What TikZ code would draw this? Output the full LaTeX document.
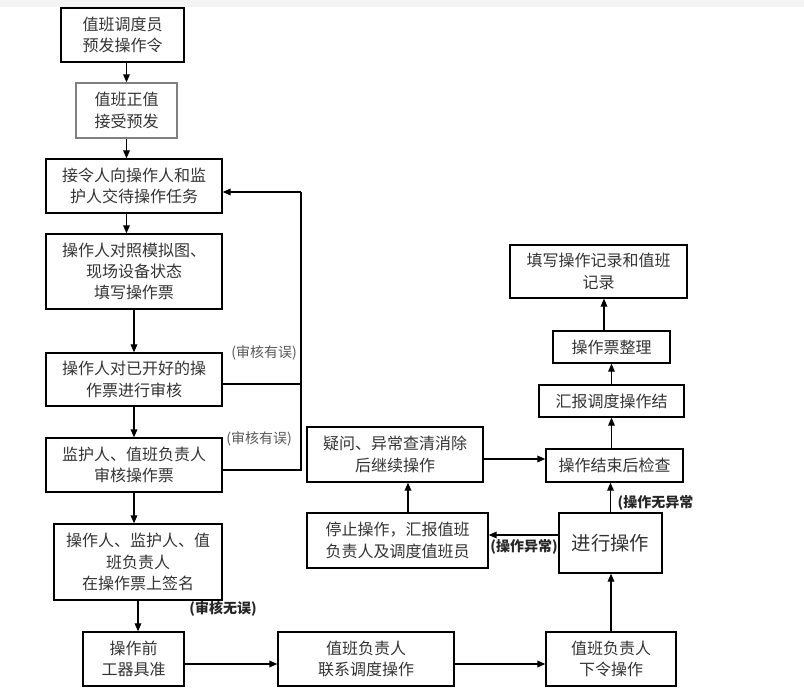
\documentclass[tikz,border=0pt]{standalone}
\usepackage{fontspec}
\newfontfamily\cjk{Noto Sans CJK SC}
\usepackage{tikz}
\usetikzlibrary{arrows.meta, calc}
\tikzset{every node/.append style={align=center}}
\usepackage{xcolor}
\definecolor{boxtext}{RGB}{51,51,51}
\definecolor{bandgray}{RGB}{244,244,244}

\begin{document}
\begin{tikzpicture}[x=0.75pt,y=-0.75pt,
  box/.style 2 args={draw, line width=1pt, minimum width=#1*0.75pt,
    minimum height=#2*0.75pt, inner sep=0pt, text=boxtext,
    font=\cjk\fontsize{12}{16}\selectfont},
  flow/.style={line width=0.9pt, -{Triangle[length=6pt,width=5pt]}},
  rail/.style={line width=0.8pt},
  note/.style={font=\cjk\fontsize{10.5}{12}\selectfont, text=black!65},
  boldnote/.style={font=\cjk\bfseries\fontsize{10.5}{12}\selectfont, text=black!85}]

\useasboundingbox (0,0) rectangle (804,692);
\fill[bandgray] (0,0) rectangle (804,7);

% ── Preparation column ───────────────────────────────────────────────────────
\node[box={123}{54}] (yufa) at (122.5,35) {值班调度员\\预发操作令};
\node[box={101}{55}, draw=black!50] (jieshou) at (126.5,110.5) {值班正值\\接受预发};
\node[box={176}{54}] (jiaodai) at (134,186) {接令人向操作人和监\\护人交待操作任务};
\node[box={176}{75}] (tianpiao) at (134,271.5) {操作人对照模拟图、\\现场设备状态\\填写操作票};
\node[box={176}{53}] (zishen) at (134,379.5) {操作人对已开好的操\\作票进行审核};
\node[box={176}{54}] (fushen) at (134,465) {监护人、值班负责人\\审核操作票};
\node[box={168}{76}] (qianming) at (138,562) {操作人、监护人、值\\班负责人\\在操作票上签名};
\node[box={101}{54}] (gongqi) at (133.5,659) {操作前\\工器具准};

\draw[flow] (yufa.south -| jieshou) -- (jieshou.north);
\draw[flow] (jieshou.south) -- (jieshou.south |- jiaodai.north);
\draw[flow] (jiaodai.south -| jieshou) -- (jieshou |- tianpiao.north);
\draw[flow] (tianpiao.south) -- (zishen.north);
\draw[flow] (zishen.south) -- (fushen.north);
\draw[flow] (fushen.south) -- (fushen.south |- qianming.north);
\draw[flow] (qianming.south) -- (qianming.south |- gongqi.north);

% Review loop back to the task briefing
\coordinate (railtop) at (301,192);
\coordinate (railmid) at (301,384);
\coordinate (railbot) at (301,470);
\draw[rail] (zishen.east |- railmid) -- (railmid);
\draw[rail] (fushen.east |- railbot) -- (railbot) -- (railtop);
\draw[flow] (railtop) -- (jiaodai.east |- railtop);

\node[note] (err1) at (264,353) {(审核有误)};
\node[note] (err2) at (259,439) {(审核有误)};
\node[boldnote] (ok1) at (223,609) {(审核无误)};

% ── Execution ────────────────────────────────────────────────────────────────
\node[box={176}{54}] (lianxi) at (366,659) {值班负责人\\联系调度操作};
\node[box={130}{54}] (xialing) at (611,659) {值班负责人\\下令操作};
\node[box={103}{60}, font=\cjk\fontsize{14.5}{18}\selectfont] (caozuo) at (610.5,543) {进行操作};
\node[box={181}{55}] (tingzhi) at (397.5,540.5) {停止操作，汇报值班\\负责人及调度值班员};
\node[box={176}{55}] (chaqing) at (395,454.5) {疑问、异常查清消除\\后继续操作};

\coordinate (lowrow) at (0,664);
\coordinate (midrow) at (0,535);
\coordinate (checkrow) at (0,459);
\coordinate (stopx) at (408,0);
\draw[flow] (gongqi.east |- lowrow) -- (lianxi.west |- lowrow);
\draw[flow] (lianxi.east |- lowrow) -- (xialing.west |- lowrow);
\draw[flow] (xialing.north) -- (xialing.north |- caozuo.south);
\draw[flow] (caozuo.west |- midrow) -- (tingzhi.east |- midrow);
\draw[flow] (tingzhi.north -| stopx) -- (chaqing.south -| stopx);

\node[boldnote] (abn) at (524,547) {(操作异常)};

% ── Closing steps ────────────────────────────────────────────────────────────
\node[box={137}{33}] (jiancha) at (614.5,465.5) {操作结束后检查};
\node[box={145}{32}] (huibao) at (611.5,401) {汇报调度操作结};
\node[box={117}{32}] (zhengli) at (611.5,347) {操作票整理};
\node[box={177}{53}] (jilu) at (598.5,271.5) {填写操作记录和值班\\记录};

\coordinate (recx) at (604,0);
\draw[flow] (caozuo.north) -- (caozuo.north |- jiancha.south);
\draw[flow] (chaqing.east |- checkrow) -- (jiancha.west |- checkrow);
\draw[flow] (jiancha.north -| huibao) -- (huibao.south);
\draw[flow] (huibao.north) -- (zhengli.south);
\draw[flow] (zhengli.north -| recx) -- (jilu.south -| recx);

\node[boldnote, anchor=west] (norm) at (613,503) {(操作无异常};

\end{tikzpicture}
\end{document}
